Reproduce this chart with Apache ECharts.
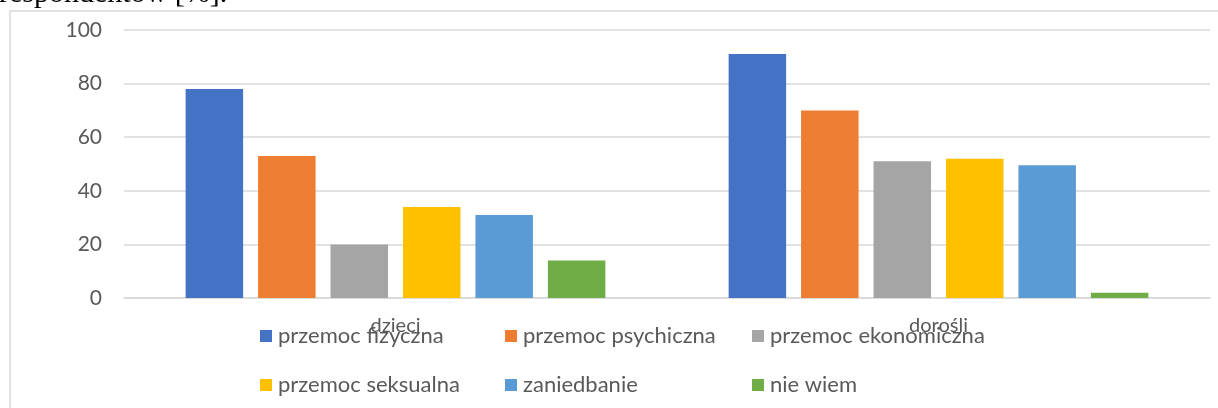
<!DOCTYPE html>
<html>
<head>
<meta charset="utf-8">
<script src="https://cdn.jsdelivr.net/npm/echarts@6/dist/echarts.min.js"></script>
<style>
html,body{margin:0;padding:0;background:#fff;}
#c{width:1218px;height:408px;}
</style>
</head>
<body>
<div id="c"></div>
<script>
const categories = ['dzieci', 'dorośli'];
const seriesNames = ['przemoc fizyczna', 'przemoc psychiczna', 'przemoc ekonomiczna', 'przemoc seksualna', 'zaniedbanie', 'nie wiem'];
const fizyczna = [78, 91];
const psychiczna = [53, 70];
const ekonomiczna = [20, 51];
const seksualna = [34, 52];
const zaniedbanie = [31, 49.5];
const nieWiem = [14, 2];
const yTicks = [0, 20, 40, 60, 80, 100];
const colors = ['#4472C4', '#ED7D31', '#A5A5A5', '#FFC000', '#5B9BD5', '#70AD47'];
const values = [fizyczna, psychiczna, ekonomiczna, seksualna, zaniedbanie, nieWiem];

const FONT = 'Lato';
const chart = echarts.init(document.getElementById('c'), null, {renderer: 'canvas'});
const legendBase = {
  orient: 'vertical', top: 325, itemWidth: 12, itemHeight: 12, itemGap: 27,
  icon: 'rect', padding: 0,
  textStyle: {color: '#595959', fontFamily: FONT, fontSize: 22, lineHeight: 20, padding: [0,0,0,1]}
};
chart.setOption({
  animation: false,
  color: colors,
  graphic: [
    {type: 'rect', shape: {x: 10, y: 11, width: 1400, height: 600}, style: {fill: 'none', stroke: '#D9D9D9', lineWidth: 1.5}, z: -1},
    {type: 'text', x: -1, y: -6, style: {text: 'respondentów [%].', font: '30px "Liberation Serif"', fill: '#000', verticalAlign: 'middle'}}
  ],
  legend: [
    Object.assign({}, legendBase, {left: 260, data: [seriesNames[0], seriesNames[3]]}),
    Object.assign({}, legendBase, {left: 505, data: [seriesNames[1], seriesNames[4]]}),
    Object.assign({}, legendBase, {left: 752, data: [seriesNames[2], seriesNames[5]]})
  ],
  grid: {left: 124, right: 8, top: 30, bottom: 110, containLabel: false},
  xAxis: {
    type: 'category', data: categories,
    axisLine: {show: true, lineStyle: {color: '#D9D9D9', width: 1.5}},
    axisTick: {show: false},
    axisLabel: {color: '#595959', fontFamily: FONT, fontSize: 20, margin: 18}
  },
  yAxis: {
    type: 'value', min: 0, max: 100, interval: 20,
    axisLine: {show: false}, axisTick: {show: false},
    splitLine: {lineStyle: {color: '#D9D9D9', width: 1.5}},
    axisLabel: {color: '#595959', fontFamily: FONT, fontSize: 21, margin: 22,
      formatter: v => yTicks.includes(v) ? String(v) : ''}
  },
  series: seriesNames.map((n, i) => ({
    name: n, type: 'bar', data: values[i], barWidth: 57.5, barGap: '26%'
  }))
});
</script>
</body>
</html>
